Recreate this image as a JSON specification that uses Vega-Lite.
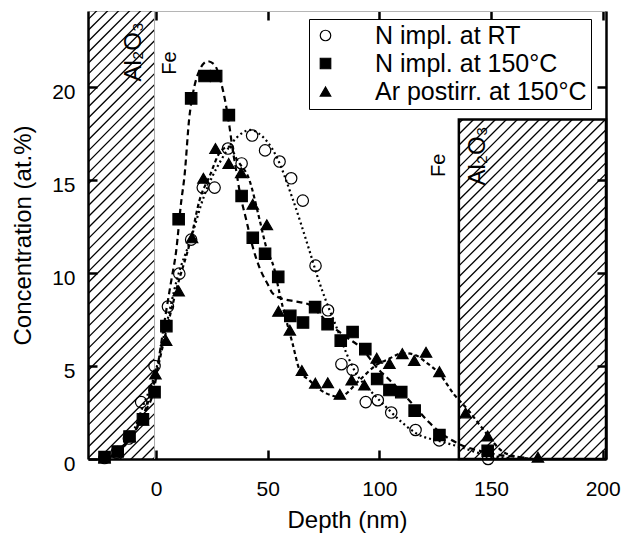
{
"$schema":"https://vega.github.io/schema/vega-lite/v6.json",
"width":518,"height":448,
"autosize":{"type":"none"},
"padding":{"left":88,"top":11,"right":22,"bottom":79},
"background":"white",
"config":{"view":{"stroke":null},"font":"Liberation Sans"},
"datasets":{
"hatch":[
{"x1":-30.5,"y1":-3.5,"x2":-0.7,"y2":0.08},{"x1":-30.5,"y1":-2.91,"x2":-0.7,"y2":0.67},{"x1":-30.5,"y1":-2.32,"x2":-0.7,"y2":1.26},{"x1":-30.5,"y1":-1.73,"x2":-0.7,"y2":1.85},{"x1":-30.5,"y1":-1.14,"x2":-0.7,"y2":2.44},{"x1":-30.5,"y1":-0.55,"x2":-0.7,"y2":3.03},{"x1":-30.5,"y1":0.04,"x2":-0.7,"y2":3.62},{"x1":-30.5,"y1":0.63,"x2":-0.7,"y2":4.21},{"x1":-30.5,"y1":1.22,"x2":-0.7,"y2":4.8},{"x1":-30.5,"y1":1.81,"x2":-0.7,"y2":5.39},{"x1":-30.5,"y1":2.4,"x2":-0.7,"y2":5.98},{"x1":-30.5,"y1":2.99,"x2":-0.7,"y2":6.57},{"x1":-30.5,"y1":3.58,"x2":-0.7,"y2":7.16},{"x1":-30.5,"y1":4.17,"x2":-0.7,"y2":7.75},{"x1":-30.5,"y1":4.76,"x2":-0.7,"y2":8.34},{"x1":-30.5,"y1":5.35,"x2":-0.7,"y2":8.93},{"x1":-30.5,"y1":5.94,"x2":-0.7,"y2":9.52},{"x1":-30.5,"y1":6.53,"x2":-0.7,"y2":10.11},{"x1":-30.5,"y1":7.12,"x2":-0.7,"y2":10.7},{"x1":-30.5,"y1":7.71,"x2":-0.7,"y2":11.29},{"x1":-30.5,"y1":8.3,"x2":-0.7,"y2":11.88},{"x1":-30.5,"y1":8.89,"x2":-0.7,"y2":12.47},{"x1":-30.5,"y1":9.48,"x2":-0.7,"y2":13.06},{"x1":-30.5,"y1":10.07,"x2":-0.7,"y2":13.65},{"x1":-30.5,"y1":10.66,"x2":-0.7,"y2":14.24},{"x1":-30.5,"y1":11.25,"x2":-0.7,"y2":14.83},{"x1":-30.5,"y1":11.84,"x2":-0.7,"y2":15.42},{"x1":-30.5,"y1":12.43,"x2":-0.7,"y2":16.01},{"x1":-30.5,"y1":13.02,"x2":-0.7,"y2":16.6},{"x1":-30.5,"y1":13.61,"x2":-0.7,"y2":17.19},{"x1":-30.5,"y1":14.2,"x2":-0.7,"y2":17.78},{"x1":-30.5,"y1":14.79,"x2":-0.7,"y2":18.37},{"x1":-30.5,"y1":15.38,"x2":-0.7,"y2":18.96},{"x1":-30.5,"y1":15.97,"x2":-0.7,"y2":19.55},{"x1":-30.5,"y1":16.56,"x2":-0.7,"y2":20.14},{"x1":-30.5,"y1":17.15,"x2":-0.7,"y2":20.73},{"x1":-30.5,"y1":17.74,"x2":-0.7,"y2":21.32},{"x1":-30.5,"y1":18.33,"x2":-0.7,"y2":21.91},{"x1":-30.5,"y1":18.92,"x2":-0.7,"y2":22.5},{"x1":-30.5,"y1":19.51,"x2":-0.7,"y2":23.09},{"x1":-30.5,"y1":20.1,"x2":-0.7,"y2":23.68},{"x1":-30.5,"y1":20.69,"x2":-0.7,"y2":24.27},{"x1":-30.5,"y1":21.28,"x2":-0.7,"y2":24.86},{"x1":-30.5,"y1":21.87,"x2":-0.7,"y2":25.45},{"x1":-30.5,"y1":22.46,"x2":-0.7,"y2":26.04},{"x1":-30.5,"y1":23.05,"x2":-0.7,"y2":26.63},{"x1":-30.5,"y1":23.64,"x2":-0.7,"y2":27.22},
{"x1":135.6,"y1":-7.31,"x2":201.5,"y2":0.6},{"x1":135.6,"y1":-6.72,"x2":201.5,"y2":1.19},{"x1":135.6,"y1":-6.13,"x2":201.5,"y2":1.78},{"x1":135.6,"y1":-5.54,"x2":201.5,"y2":2.37},{"x1":135.6,"y1":-4.95,"x2":201.5,"y2":2.96},{"x1":135.6,"y1":-4.36,"x2":201.5,"y2":3.55},{"x1":135.6,"y1":-3.77,"x2":201.5,"y2":4.14},{"x1":135.6,"y1":-3.18,"x2":201.5,"y2":4.73},{"x1":135.6,"y1":-2.59,"x2":201.5,"y2":5.32},{"x1":135.6,"y1":-2.0,"x2":201.5,"y2":5.91},{"x1":135.6,"y1":-1.41,"x2":201.5,"y2":6.5},{"x1":135.6,"y1":-0.82,"x2":201.5,"y2":7.09},{"x1":135.6,"y1":-0.23,"x2":201.5,"y2":7.68},{"x1":135.6,"y1":0.36,"x2":201.5,"y2":8.27},{"x1":135.6,"y1":0.95,"x2":201.5,"y2":8.86},{"x1":135.6,"y1":1.54,"x2":201.5,"y2":9.45},{"x1":135.6,"y1":2.13,"x2":201.5,"y2":10.04},{"x1":135.6,"y1":2.72,"x2":201.5,"y2":10.63},{"x1":135.6,"y1":3.31,"x2":201.5,"y2":11.22},{"x1":135.6,"y1":3.9,"x2":201.5,"y2":11.81},{"x1":135.6,"y1":4.49,"x2":201.5,"y2":12.4},{"x1":135.6,"y1":5.08,"x2":201.5,"y2":12.99},{"x1":135.6,"y1":5.67,"x2":201.5,"y2":13.58},{"x1":135.6,"y1":6.26,"x2":201.5,"y2":14.17},{"x1":135.6,"y1":6.85,"x2":201.5,"y2":14.76},{"x1":135.6,"y1":7.44,"x2":201.5,"y2":15.35},{"x1":135.6,"y1":8.03,"x2":201.5,"y2":15.94},{"x1":135.6,"y1":8.62,"x2":201.5,"y2":16.53},{"x1":135.6,"y1":9.21,"x2":201.5,"y2":17.12},{"x1":135.6,"y1":9.8,"x2":201.5,"y2":17.71},{"x1":135.6,"y1":10.39,"x2":201.2,"y2":18.26},{"x1":135.6,"y1":10.98,"x2":196.2,"y2":18.26},{"x1":135.6,"y1":11.57,"x2":191.3,"y2":18.26},{"x1":135.6,"y1":12.16,"x2":186.4,"y2":18.26},{"x1":135.6,"y1":12.75,"x2":181.5,"y2":18.26},{"x1":135.6,"y1":13.34,"x2":176.6,"y2":18.26},{"x1":135.6,"y1":13.93,"x2":171.7,"y2":18.26},{"x1":135.6,"y1":14.52,"x2":166.8,"y2":18.26},{"x1":135.6,"y1":15.11,"x2":161.8,"y2":18.26},{"x1":135.6,"y1":15.7,"x2":156.9,"y2":18.26},{"x1":135.6,"y1":16.29,"x2":152.0,"y2":18.26},{"x1":135.6,"y1":16.88,"x2":147.1,"y2":18.26},{"x1":135.6,"y1":17.47,"x2":142.2,"y2":18.26},{"x1":135.6,"y1":18.06,"x2":137.3,"y2":18.26}
],
"curves":[
{"c":"S","x":-25.6,"y":0},{"c":"S","x":-20,"y":0.15},{"c":"S","x":-15.7,"y":0.53},{"c":"S","x":-10.5,"y":1.3},{"c":"S","x":-5.7,"y":2.38},{"c":"S","x":-0.7,"y":3.9},{"c":"S","x":2,"y":6.0},{"c":"S","x":4.3,"y":7.8},{"c":"S","x":6.8,"y":9.6},{"c":"S","x":9,"y":11.2},{"c":"S","x":11.2,"y":13.8},{"c":"S","x":12.7,"y":15.2},{"c":"S","x":14.9,"y":18.4},{"c":"S","x":16.4,"y":19.6},{"c":"S","x":19.4,"y":20.9},{"c":"S","x":23.1,"y":21.4},{"c":"S","x":26.2,"y":21.2},{"c":"S","x":29.2,"y":20.2},{"c":"S","x":31.2,"y":19.1},{"c":"S","x":32.9,"y":17.85},{"c":"S","x":34.1,"y":16.8},{"c":"S","x":35.9,"y":15.5},{"c":"S","x":37.4,"y":14.4},{"c":"S","x":40.3,"y":12.9},{"c":"S","x":43.3,"y":11.4},{"c":"S","x":46.3,"y":10.3},{"c":"S","x":50,"y":9.4},{"c":"S","x":52.3,"y":8.9},{"c":"S","x":57.1,"y":8.6},{"c":"S","x":61.3,"y":8.5},{"c":"S","x":68.7,"y":8.3},{"c":"S","x":73,"y":7.83},{"c":"S","x":76,"y":7.44},{"c":"S","x":84,"y":6.66},{"c":"S","x":92.4,"y":5.9},{"c":"S","x":99,"y":4.9},{"c":"S","x":105,"y":4.2},{"c":"S","x":110,"y":3.6},{"c":"S","x":116,"y":2.8},{"c":"S","x":122,"y":2.0},{"c":"S","x":127,"y":1.45},{"c":"S","x":135,"y":0.85},{"c":"S","x":148,"y":0.35},{"c":"S","x":165,"y":0.08},
{"c":"C","x":-25.6,"y":0},{"c":"C","x":-20,"y":0.15},{"c":"C","x":-15.7,"y":0.5},{"c":"C","x":-10.5,"y":1.4},{"c":"C","x":-5.7,"y":2.9},{"c":"C","x":-0.7,"y":4.5},{"c":"C","x":4.3,"y":7.05},{"c":"C","x":9.2,"y":9.6},{"c":"C","x":15.7,"y":11.9},{"c":"C","x":21.2,"y":14.05},{"c":"C","x":29.2,"y":16.1},{"c":"C","x":36.2,"y":17.3},{"c":"C","x":42.1,"y":17.7},{"c":"C","x":46.1,"y":17.5},{"c":"C","x":53.8,"y":16.3},{"c":"C","x":61,"y":14.05},{"c":"C","x":68.7,"y":11.2},{"c":"C","x":72.3,"y":9.8},{"c":"C","x":76.1,"y":8.5},{"c":"C","x":80.6,"y":7.15},{"c":"C","x":85.2,"y":5.7},{"c":"C","x":89.6,"y":4.6},{"c":"C","x":95.5,"y":3.74},{"c":"C","x":102.9,"y":2.81},{"c":"C","x":108.9,"y":2.1},{"c":"C","x":116.5,"y":1.38},{"c":"C","x":128.3,"y":0.92},{"c":"C","x":135.8,"y":0.66},{"c":"C","x":147.7,"y":0.22},{"c":"C","x":158.7,"y":0.05},
{"c":"T","x":-25.6,"y":0},{"c":"T","x":-20,"y":0.15},{"c":"T","x":-15.7,"y":0.53},{"c":"T","x":-10.5,"y":1.3},{"c":"T","x":-5.7,"y":2.38},{"c":"T","x":-0.7,"y":4.2},{"c":"T","x":4.3,"y":6.76},{"c":"T","x":9.3,"y":9.2},{"c":"T","x":15.7,"y":11.9},{"c":"T","x":19.4,"y":13.9},{"c":"T","x":23.9,"y":15.2},{"c":"T","x":29.2,"y":16.6},{"c":"T","x":32.9,"y":16.8},{"c":"T","x":36.2,"y":16.1},{"c":"T","x":41.8,"y":15.0},{"c":"T","x":46.3,"y":12.9},{"c":"T","x":49.3,"y":11.4},{"c":"T","x":53,"y":10.2},{"c":"T","x":55.3,"y":8.9},{"c":"T","x":61.1,"y":6.22},{"c":"T","x":64.3,"y":4.78},{"c":"T","x":68.7,"y":4.23},{"c":"T","x":76.2,"y":3.53},{"c":"T","x":82.1,"y":3.35},{"c":"T","x":91,"y":4.23},{"c":"T","x":98,"y":5.0},{"c":"T","x":104.5,"y":5.4},{"c":"T","x":110.5,"y":5.7},{"c":"T","x":116,"y":5.6},{"c":"T","x":120.9,"y":5.2},{"c":"T","x":126.8,"y":4.6},{"c":"T","x":133.6,"y":3.45},{"c":"T","x":140,"y":2.6},{"c":"T","x":145.8,"y":1.7},{"c":"T","x":156.7,"y":0.3},{"c":"T","x":168.7,"y":0}
],
"points":[
{"s":"N impl. at RT","x":-23.1,"y":0.05},{"s":"N impl. at RT","x":-17.7,"y":0.34},{"s":"N impl. at RT","x":-12.2,"y":1.1},{"s":"N impl. at RT","x":-6.7,"y":3.06},{"s":"N impl. at RT","x":-0.7,"y":5.0},{"s":"N impl. at RT","x":5.3,"y":8.2},{"s":"N impl. at RT","x":10.4,"y":9.97},{"s":"N impl. at RT","x":15.7,"y":11.8},{"s":"N impl. at RT","x":20.9,"y":14.6},{"s":"N impl. at RT","x":26.2,"y":14.6},{"s":"N impl. at RT","x":32.2,"y":16.7},{"s":"N impl. at RT","x":38.3,"y":15.9},{"s":"N impl. at RT","x":43.0,"y":17.4},{"s":"N impl. at RT","x":48.8,"y":16.6},{"s":"N impl. at RT","x":55.3,"y":16.0},{"s":"N impl. at RT","x":60.5,"y":15.1},{"s":"N impl. at RT","x":65.7,"y":13.9},{"s":"N impl. at RT","x":71.4,"y":10.4},{"s":"N impl. at RT","x":77,"y":8.0},{"s":"N impl. at RT","x":83,"y":5.1},{"s":"N impl. at RT","x":88,"y":4.8},{"s":"N impl. at RT","x":93.9,"y":3.06},{"s":"N impl. at RT","x":99.3,"y":3.16},{"s":"N impl. at RT","x":105.3,"y":2.5},{"s":"N impl. at RT","x":116.2,"y":1.56},{"s":"N impl. at RT","x":126.8,"y":1.0},{"s":"N impl. at RT","x":148.7,"y":0.0},
{"s":"N impl. at 150°C","x":-23.1,"y":0.1},{"s":"N impl. at 150°C","x":-17.2,"y":0.4},{"s":"N impl. at 150°C","x":-11.9,"y":1.21},{"s":"N impl. at 150°C","x":-5.9,"y":2.14},{"s":"N impl. at 150°C","x":-0.7,"y":3.6},{"s":"N impl. at 150°C","x":4.6,"y":7.15},{"s":"N impl. at 150°C","x":10.1,"y":12.9},{"s":"N impl. at 150°C","x":15.7,"y":19.4},{"s":"N impl. at 150°C","x":21.7,"y":20.6},{"s":"N impl. at 150°C","x":26.9,"y":20.6},{"s":"N impl. at 150°C","x":32.6,"y":18.5},{"s":"N impl. at 150°C","x":38.3,"y":14.15},{"s":"N impl. at 150°C","x":43.3,"y":11.9},{"s":"N impl. at 150°C","x":48.8,"y":11.04},{"s":"N impl. at 150°C","x":54.7,"y":9.8},{"s":"N impl. at 150°C","x":60.1,"y":7.7},{"s":"N impl. at 150°C","x":65.8,"y":7.34},{"s":"N impl. at 150°C","x":71.2,"y":8.17},{"s":"N impl. at 150°C","x":76.8,"y":7.25},{"s":"N impl. at 150°C","x":82.7,"y":6.37},{"s":"N impl. at 150°C","x":88,"y":6.83},{"s":"N impl. at 150°C","x":93.7,"y":5.91},{"s":"N impl. at 150°C","x":99,"y":4.3},{"s":"N impl. at 150°C","x":104.5,"y":3.71},{"s":"N impl. at 150°C","x":109.8,"y":3.6},{"s":"N impl. at 150°C","x":115.8,"y":2.6},{"s":"N impl. at 150°C","x":126.9,"y":1.29},{"s":"N impl. at 150°C","x":148.5,"y":0.44},
{"s":"Ar postirr. at 150°C","x":-23.1,"y":0.05},{"s":"Ar postirr. at 150°C","x":-17.2,"y":0.4},{"s":"Ar postirr. at 150°C","x":-11.9,"y":1.21},{"s":"Ar postirr. at 150°C","x":-5.9,"y":2.09},{"s":"Ar postirr. at 150°C","x":-0.3,"y":4.57},{"s":"Ar postirr. at 150°C","x":4.5,"y":6.37},{"s":"Ar postirr. at 150°C","x":10.1,"y":9.04},{"s":"Ar postirr. at 150°C","x":16.1,"y":11.9},{"s":"Ar postirr. at 150°C","x":21.2,"y":15.1},{"s":"Ar postirr. at 150°C","x":26.6,"y":16.7},{"s":"Ar postirr. at 150°C","x":32.5,"y":15.9},{"s":"Ar postirr. at 150°C","x":38.1,"y":15.4},{"s":"Ar postirr. at 150°C","x":43.3,"y":13.7},{"s":"Ar postirr. at 150°C","x":49.6,"y":12.6},{"s":"Ar postirr. at 150°C","x":54.8,"y":7.95},{"s":"Ar postirr. at 150°C","x":59.9,"y":6.93},{"s":"Ar postirr. at 150°C","x":65.3,"y":4.76},{"s":"Ar postirr. at 150°C","x":71.3,"y":4.08},{"s":"Ar postirr. at 150°C","x":76.9,"y":4.1},{"s":"Ar postirr. at 150°C","x":82.3,"y":3.48},{"s":"Ar postirr. at 150°C","x":87.6,"y":4.25},{"s":"Ar postirr. at 150°C","x":93.3,"y":3.98},{"s":"Ar postirr. at 150°C","x":98.8,"y":5.42},{"s":"Ar postirr. at 150°C","x":104.5,"y":5.14},{"s":"Ar postirr. at 150°C","x":110.3,"y":5.67},{"s":"Ar postirr. at 150°C","x":115.6,"y":5.3},{"s":"Ar postirr. at 150°C","x":120.9,"y":5.74},{"s":"Ar postirr. at 150°C","x":126.9,"y":4.7},{"s":"Ar postirr. at 150°C","x":138.6,"y":2.48},{"s":"Ar postirr. at 150°C","x":148.5,"y":1.24},{"s":"Ar postirr. at 150°C","x":171,"y":0.1}
],
"big":[{"t":"Al₂O₃","x":-9.8,"y":21.9},{"t":"Al₂O₃","x":144,"y":16.3}],
"small":[{"t":"Fe","x":6.2,"y":21.3},{"t":"Fe","x":126.9,"y":15.8}]
},
"layer":[
{"data":{"name":"hatch"},"mark":{"type":"rule","color":"black","strokeWidth":1.3,"clip":true},
 "encoding":{"x":{"field":"x1","type":"quantitative","scale":{"domain":[-30.5,201.5],"nice":false,"zero":false},"axis":null},
  "x2":{"field":"x2"},
  "y":{"field":"y1","type":"quantitative","scale":{"domain":[0,24.1],"nice":false,"zero":false},"axis":null},
  "y2":{"field":"y2"}}},
{"data":{"values":[{}]},"mark":{"type":"rule","color":"#aaaaaa","strokeWidth":1},
 "encoding":{"x":{"datum":-0.7,"type":"quantitative","scale":{"domain":[-30.5,201.5],"nice":false,"zero":false},"axis":null}}},
{"data":{"values":[{}]},"mark":{"type":"rect","fill":"transparent","stroke":"black","strokeWidth":2.5},
 "encoding":{"x":{"datum":135.6,"type":"quantitative","scale":{"domain":[-30.5,201.5],"nice":false,"zero":false},"axis":null},"x2":{"datum":201.5},
  "y":{"datum":0,"type":"quantitative","scale":{"domain":[0,24.1],"nice":false,"zero":false},"axis":null},"y2":{"datum":18.26}}},
{"data":{"name":"curves"},"transform":[{"filter":"datum.c === 'S'"}],"mark":{"type":"line","color":"black","strokeWidth":2.2,"interpolate":"monotone","clip":true,"strokeDash":[6,4]},
 "encoding":{
  "x":{"field":"x","type":"quantitative","scale":{"domain":[-30.5,201.5],"nice":false,"zero":false},
   "axis":{"orient":"bottom","values":[0,50,100,150,200],"title":"Depth (nm)","titleFont":"Liberation Sans","titleFontSize":24,"titleFontWeight":"normal","titleColor":"black","titlePadding":9,
    "labelFont":"Liberation Sans","labelFontSize":21,"labelColor":"black","labelPadding":28,"tickSize":-9,"tickWidth":2.5,"tickColor":"black","domainColor":"black","domainWidth":2.5,"grid":false,"labelFlush":false}},
  "y":{"field":"y","type":"quantitative","scale":{"domain":[0,24.1],"nice":false,"zero":false},
   "axis":{"orient":"left","values":[0,5,10,15,20],"title":"Concentration (at.%)","titleFont":"Liberation Sans","titleFontSize":24,"titleFontWeight":"normal","titleColor":"black","titlePadding":16,
    "labelFont":"Liberation Sans","labelFontSize":21,"labelColor":"black","labelPadding":22,"labelOffset":5,"tickSize":-9,"tickWidth":2.5,"tickColor":"black","domainColor":"black","domainWidth":2.5,"grid":false,"labelFlush":false}}}},
{"data":{"name":"curves"},"transform":[{"filter":"datum.c === 'C'"}],"mark":{"type":"line","color":"black","strokeWidth":2.2,"interpolate":"monotone","clip":true,"strokeDash":[2,3]},
 "encoding":{
  "x":{"field":"x","type":"quantitative","scale":{"domain":[-30.5,201.5],"nice":false,"zero":false},"axis":null},
  "y":{"field":"y","type":"quantitative","scale":{"domain":[0,24.1],"nice":false,"zero":false},"axis":null}}},
{"data":{"name":"curves"},"transform":[{"filter":"datum.c === 'T'"}],"mark":{"type":"line","color":"black","strokeWidth":2.2,"interpolate":"monotone","clip":true,"strokeDash":[4,3]},
 "encoding":{
  "x":{"field":"x","type":"quantitative","scale":{"domain":[-30.5,201.5],"nice":false,"zero":false},"axis":null},
  "y":{"field":"y","type":"quantitative","scale":{"domain":[0,24.1],"nice":false,"zero":false},"axis":null}}},
{"data":{"name":"points"},"mark":{"type":"point","strokeWidth":1.2,"opacity":1,"size":130},
 "encoding":{
  "x":{"field":"x","type":"quantitative","scale":{"domain":[-30.5,201.5],"nice":false,"zero":false},
   "axis":{"orient":"top","values":[0,50,100,150,200],"labels":false,"title":null,"tickSize":-9,"tickWidth":2.5,"tickColor":"black","domainColor":"#b5b5b5","domainWidth":1,"grid":false}},
  "y":{"field":"y","type":"quantitative","scale":{"domain":[0,24.1],"nice":false,"zero":false},
   "axis":{"orient":"right","values":[5,10,15,20],"labels":false,"title":null,"tickSize":-9,"tickWidth":2.5,"tickColor":"black","domainColor":"black","domainWidth":2.5,"grid":false}},
  "shape":{"field":"s","type":"nominal","scale":{"domain":["N impl. at RT","N impl. at 150°C","Ar postirr. at 150°C"],"range":["circle","square","triangle-up"]},
   "legend":{"orient":"none","legendX":221,"legendY":8,"title":null,"fillColor":"white","strokeColor":"black","padding":4,"labelFont":"Liberation Sans","labelFontSize":25,"labelColor":"black","labelOffset":37,"symbolOffset":0,"symbolSize":110,"symbolStrokeWidth":1.2,"rowPadding":2,"labelLimit":400}},
  "fill":{"field":"s","type":"nominal","scale":{"domain":["N impl. at RT","N impl. at 150°C","Ar postirr. at 150°C"],"range":["transparent","black","black"]},
   "legend":{"orient":"none","legendX":221,"legendY":8,"title":null,"fillColor":"white","strokeColor":"black","padding":4,"labelFont":"Liberation Sans","labelFontSize":25,"labelColor":"black","labelOffset":37,"symbolOffset":0,"symbolSize":110,"symbolStrokeWidth":1.2,"rowPadding":2,"labelLimit":400}},
  "stroke":{"field":"s","type":"nominal","scale":{"domain":["N impl. at RT","N impl. at 150°C","Ar postirr. at 150°C"],"range":["black","black","black"]},
   "legend":{"orient":"none","legendX":221,"legendY":8,"title":null,"fillColor":"white","strokeColor":"black","padding":4,"labelFont":"Liberation Sans","labelFontSize":25,"labelColor":"black","labelOffset":37,"symbolOffset":0,"symbolSize":110,"symbolStrokeWidth":1.2,"rowPadding":2,"labelLimit":400}}}},
{"data":{"name":"big"},"mark":{"type":"text","font":"Liberation Sans","fontSize":24,"angle":270,"align":"center","baseline":"middle","color":"black"},
 "encoding":{"x":{"field":"x","type":"quantitative","scale":{"domain":[-30.5,201.5],"nice":false,"zero":false},"axis":null},
  "y":{"field":"y","type":"quantitative","scale":{"domain":[0,24.1],"nice":false,"zero":false},"axis":null},"text":{"field":"t"}}},
{"data":{"name":"small"},"mark":{"type":"text","font":"Liberation Sans","fontSize":20,"angle":270,"align":"center","baseline":"middle","color":"black"},
 "encoding":{"x":{"field":"x","type":"quantitative","scale":{"domain":[-30.5,201.5],"nice":false,"zero":false},"axis":null},
  "y":{"field":"y","type":"quantitative","scale":{"domain":[0,24.1],"nice":false,"zero":false},"axis":null},"text":{"field":"t"}}}
],
"resolve":{"axis":{"x":"independent","y":"independent"}}
}
